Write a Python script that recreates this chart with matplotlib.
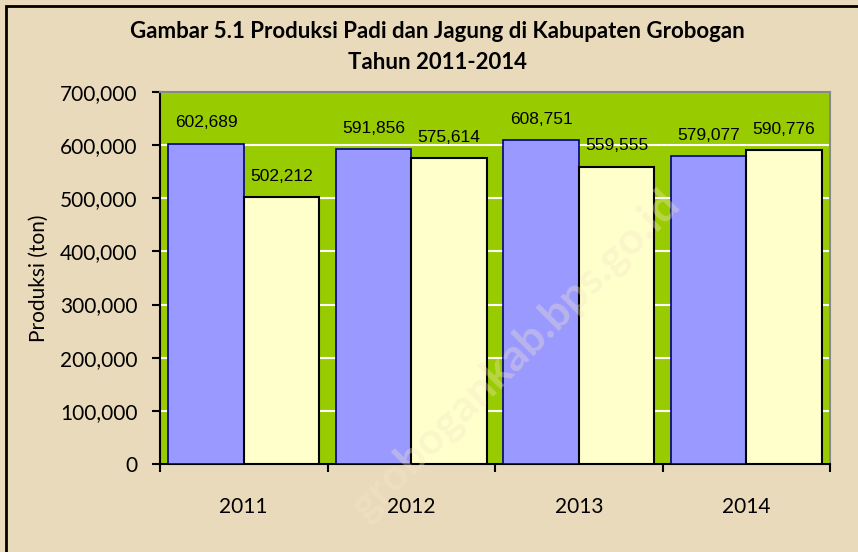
import numpy as np
import matplotlib.pyplot as plt
from matplotlib.patches import Rectangle
from matplotlib.ticker import FuncFormatter, MultipleLocator

years = ["2011", "2012", "2013", "2014"]
padi = [602689, 591856, 608751, 579077]
jagung = [502212, 575614, 559555, 590776]

fig = plt.figure(figsize=(8.58, 5.52), dpi=100)
fig.patch.set_facecolor("#e9dabb")

# black frame (left and top only, right/bottom cut off in reference)
fig.add_artist(Rectangle((6 / 858, -0.05), 1.2, 1 - 6 / 552 + 0.05,
                         transform=fig.transFigure, fill=False,
                         edgecolor="black", linewidth=2))

ax = fig.add_axes([160 / 858, 1 - 464 / 552, 670 / 858, 372 / 552])
ax.set_facecolor("#99cc00")

x = np.arange(len(years))
w = 0.45
b1 = ax.bar(x - w / 2, padi, w, color="#9999ff", edgecolor="#000080", linewidth=1.2, zorder=3)
b2 = ax.bar(x + w / 2, jagung, w, color="#ffffcc", edgecolor="black", linewidth=1.5, zorder=3)

for bars, vals in [(b1, padi), (b2, jagung)]:
    for r, v in zip(bars, vals):
        ax.annotate(f"{v:,}", (r.get_x() + r.get_width() / 2, v), xytext=(0, 15),
                    textcoords="offset points", ha="center", va="center",
                    fontsize=12.5, family="Liberation Sans", zorder=4)

ax.set_xlim(-0.5, 3.5)
ax.set_ylim(0, 700000)
ax.yaxis.set_major_locator(MultipleLocator(100000))
ax.yaxis.set_major_formatter(FuncFormatter(lambda v, p: f"{int(v):,}"))
ax.grid(axis="y", color="white", linewidth=1.5, zorder=1)
ax.set_xticks(x)
ax.set_xticklabels(years)
ax.set_xticks(np.arange(-0.5, 4, 1), minor=True)
ax.tick_params(axis="x", which="major", length=0, pad=24, labelsize=15)
ax.tick_params(axis="x", which="minor", length=6, width=1.5, direction="out")
ax.tick_params(axis="y", length=6, width=1.5, labelsize=15, pad=10)
for lab in ax.get_xticklabels() + ax.get_yticklabels():
    lab.set_family("Lato")

for s in ["top", "right"]:
    ax.spines[s].set_color("#888888")
    ax.spines[s].set_linewidth(1.5)
for s in ["left", "bottom"]:
    ax.spines[s].set_color("black")
    ax.spines[s].set_linewidth(1.5)

ax.set_ylabel("Produksi (ton)", fontsize=15, family="Lato", labelpad=8)

fig.text(0.51, 1 - 32 / 552, "Gambar 5.1 Produksi Padi dan Jagung di Kabupaten Grobogan",
         ha="center", va="center", fontsize=16, fontweight="bold", family="Lato")
fig.text(0.51, 1 - 62 / 552, "Tahun 2011-2014",
         ha="center", va="center", fontsize=16, fontweight="bold", family="Lato")

# watermark
fig.text(515 / 858, 1 - 355 / 552, "grobogankab.bps.go.id", rotation=45, ha="center", va="center",
         fontsize=32, fontweight="bold", family="Lato", color="#f3e6c8", alpha=0.35, zorder=10)

fig.savefig("out.png", dpi=100, facecolor=fig.get_facecolor())
